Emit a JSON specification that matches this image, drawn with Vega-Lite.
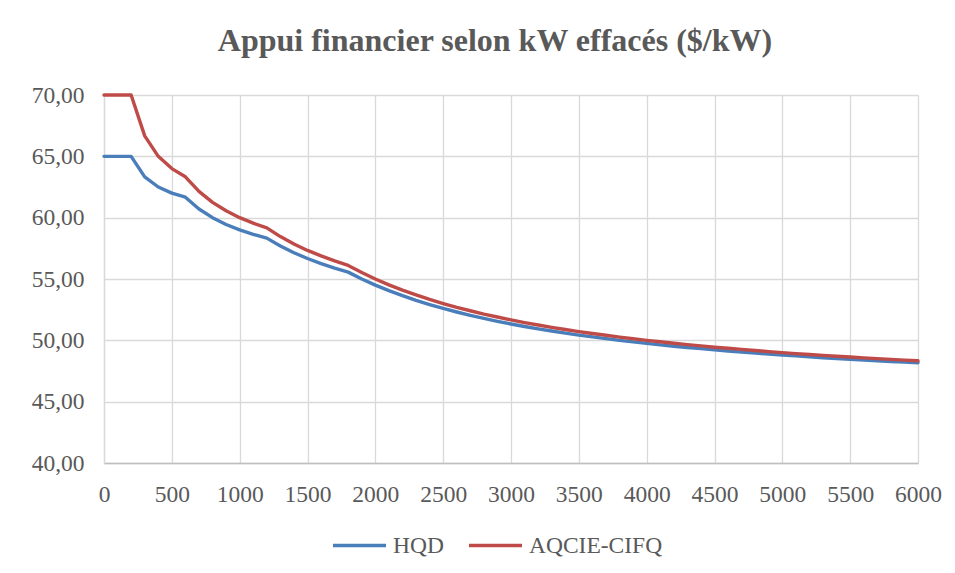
{
  "$schema": "https://vega.github.io/schema/vega-lite/v6.json",
  "width": 814,
  "height": 368,
  "autosize": {"type": "none"},
  "padding": {"left": 104, "top": 95, "right": 37, "bottom": 110},
  "background": "white",
  "title": {
    "text": "Appui financier selon kW effacés ($/kW)",
    "font": "Liberation Serif",
    "fontSize": 32,
    "fontWeight": "bold",
    "color": "#595959",
    "anchor": "middle",
    "frame": "group",
    "dx": -16,
    "baseline": "alphabetic",
    "offset": 0
  },
  "config": {
    "locale": {
      "number": {"decimal": ",", "thousands": " ", "grouping": [3], "currency": ["", " $"]}
    },
    "view": {"stroke": null}
  },
  "data": {
    "values": [
      {"kw": 0, "HQD": 65, "AQCIE-CIFQ": 70},
      {"kw": 100, "HQD": 65, "AQCIE-CIFQ": 70},
      {"kw": 200, "HQD": 65, "AQCIE-CIFQ": 70},
      {"kw": 300, "HQD": 63.33, "AQCIE-CIFQ": 66.67},
      {"kw": 400, "HQD": 62.5, "AQCIE-CIFQ": 65},
      {"kw": 500, "HQD": 62, "AQCIE-CIFQ": 64},
      {"kw": 600, "HQD": 61.67, "AQCIE-CIFQ": 63.33},
      {"kw": 700, "HQD": 60.71, "AQCIE-CIFQ": 62.14},
      {"kw": 800, "HQD": 60, "AQCIE-CIFQ": 61.25},
      {"kw": 900, "HQD": 59.44, "AQCIE-CIFQ": 60.56},
      {"kw": 1000, "HQD": 59, "AQCIE-CIFQ": 60},
      {"kw": 1100, "HQD": 58.64, "AQCIE-CIFQ": 59.55},
      {"kw": 1200, "HQD": 58.33, "AQCIE-CIFQ": 59.17},
      {"kw": 1300, "HQD": 57.69, "AQCIE-CIFQ": 58.46},
      {"kw": 1400, "HQD": 57.14, "AQCIE-CIFQ": 57.86},
      {"kw": 1500, "HQD": 56.67, "AQCIE-CIFQ": 57.33},
      {"kw": 1600, "HQD": 56.25, "AQCIE-CIFQ": 56.88},
      {"kw": 1700, "HQD": 55.88, "AQCIE-CIFQ": 56.47},
      {"kw": 1800, "HQD": 55.56, "AQCIE-CIFQ": 56.11},
      {"kw": 1900, "HQD": 55.0, "AQCIE-CIFQ": 55.53},
      {"kw": 2000, "HQD": 54.5, "AQCIE-CIFQ": 55.0},
      {"kw": 2100, "HQD": 54.05, "AQCIE-CIFQ": 54.52},
      {"kw": 2200, "HQD": 53.64, "AQCIE-CIFQ": 54.09},
      {"kw": 2300, "HQD": 53.26, "AQCIE-CIFQ": 53.7},
      {"kw": 2400, "HQD": 52.92, "AQCIE-CIFQ": 53.33},
      {"kw": 2500, "HQD": 52.6, "AQCIE-CIFQ": 53.0},
      {"kw": 2600, "HQD": 52.31, "AQCIE-CIFQ": 52.69},
      {"kw": 2700, "HQD": 52.04, "AQCIE-CIFQ": 52.41},
      {"kw": 2800, "HQD": 51.79, "AQCIE-CIFQ": 52.14},
      {"kw": 2900, "HQD": 51.55, "AQCIE-CIFQ": 51.9},
      {"kw": 3000, "HQD": 51.33, "AQCIE-CIFQ": 51.67},
      {"kw": 3100, "HQD": 51.13, "AQCIE-CIFQ": 51.45},
      {"kw": 3200, "HQD": 50.94, "AQCIE-CIFQ": 51.25},
      {"kw": 3300, "HQD": 50.76, "AQCIE-CIFQ": 51.06},
      {"kw": 3400, "HQD": 50.59, "AQCIE-CIFQ": 50.88},
      {"kw": 3500, "HQD": 50.43, "AQCIE-CIFQ": 50.71},
      {"kw": 3600, "HQD": 50.28, "AQCIE-CIFQ": 50.56},
      {"kw": 3700, "HQD": 50.14, "AQCIE-CIFQ": 50.41},
      {"kw": 3800, "HQD": 50.0, "AQCIE-CIFQ": 50.26},
      {"kw": 3900, "HQD": 49.87, "AQCIE-CIFQ": 50.13},
      {"kw": 4000, "HQD": 49.75, "AQCIE-CIFQ": 50.0},
      {"kw": 4100, "HQD": 49.63, "AQCIE-CIFQ": 49.88},
      {"kw": 4200, "HQD": 49.52, "AQCIE-CIFQ": 49.76},
      {"kw": 4300, "HQD": 49.42, "AQCIE-CIFQ": 49.65},
      {"kw": 4400, "HQD": 49.32, "AQCIE-CIFQ": 49.55},
      {"kw": 4500, "HQD": 49.22, "AQCIE-CIFQ": 49.44},
      {"kw": 4600, "HQD": 49.13, "AQCIE-CIFQ": 49.35},
      {"kw": 4700, "HQD": 49.04, "AQCIE-CIFQ": 49.26},
      {"kw": 4800, "HQD": 48.96, "AQCIE-CIFQ": 49.17},
      {"kw": 4900, "HQD": 48.88, "AQCIE-CIFQ": 49.08},
      {"kw": 5000, "HQD": 48.8, "AQCIE-CIFQ": 49.0},
      {"kw": 5100, "HQD": 48.73, "AQCIE-CIFQ": 48.92},
      {"kw": 5200, "HQD": 48.65, "AQCIE-CIFQ": 48.85},
      {"kw": 5300, "HQD": 48.58, "AQCIE-CIFQ": 48.77},
      {"kw": 5400, "HQD": 48.52, "AQCIE-CIFQ": 48.7},
      {"kw": 5500, "HQD": 48.45, "AQCIE-CIFQ": 48.64},
      {"kw": 5600, "HQD": 48.39, "AQCIE-CIFQ": 48.57},
      {"kw": 5700, "HQD": 48.33, "AQCIE-CIFQ": 48.51},
      {"kw": 5800, "HQD": 48.28, "AQCIE-CIFQ": 48.45},
      {"kw": 5900, "HQD": 48.22, "AQCIE-CIFQ": 48.39},
      {"kw": 6000, "HQD": 48.17, "AQCIE-CIFQ": 48.33}
    ]
  },
  "transform": [{"fold": ["HQD", "AQCIE-CIFQ"], "as": ["serie", "valeur"]}],
  "mark": {"type": "line", "strokeWidth": 3.4, "strokeJoin": "round", "strokeCap": "round"},
  "encoding": {
    "x": {
      "field": "kw",
      "type": "quantitative",
      "scale": {"domain": [0, 6000], "nice": false},
      "axis": {
        "title": null,
        "values": [0, 500, 1000, 1500, 2000, 2500, 3000, 3500, 4000, 4500, 5000, 5500, 6000],
        "format": "d",
        "ticks": false,
        "labelFont": "Liberation Serif",
        "labelFontSize": 23.5,
        "labelColor": "#595959",
        "labelPadding": 19,
        "labelFlush": false,
        "labelOverlap": false,
        "domainColor": "#bfbfbf",
        "domainWidth": 1.3,
        "gridColor": "#d9d9d9",
        "gridWidth": 1.3
      }
    },
    "y": {
      "field": "valeur",
      "type": "quantitative",
      "scale": {"domain": [40, 70], "nice": false, "zero": false},
      "axis": {
        "title": null,
        "values": [40, 45, 50, 55, 60, 65, 70],
        "format": ".2f",
        "ticks": false,
        "labelFont": "Liberation Serif",
        "labelFontSize": 23.5,
        "labelColor": "#595959",
        "labelPadding": 20,
        "domainColor": "#d9d9d9",
        "domainWidth": 1.3,
        "gridColor": "#d9d9d9",
        "gridWidth": 1.3
      }
    },
    "color": {
      "field": "serie",
      "type": "nominal",
      "scale": {"domain": ["HQD", "AQCIE-CIFQ"], "range": ["#4A7EBB", "#BE4B48"]},
      "legend": {
        "orient": "none",
        "legendX": 227,
        "legendY": 422,
        "direction": "horizontal",
        "title": null,
        "symbolType": "stroke",
        "symbolSize": 2809,
        "symbolStrokeWidth": 3.4,
        "labelFont": "Liberation Serif",
        "labelFontSize": 23.5,
        "labelColor": "#595959",
        "labelOffset": 5,
        "columnPadding": 18,
        "padding": 0
      }
    }
  }
}
